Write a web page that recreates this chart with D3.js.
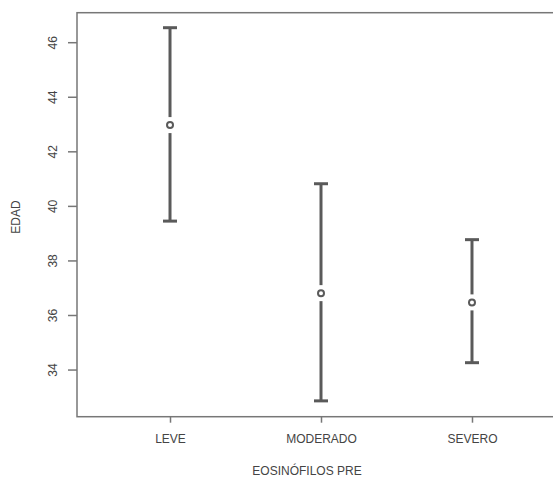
<!DOCTYPE html>
<html>
<head>
<meta charset="utf-8">
<script src="https://cdn.jsdelivr.net/npm/d3@7"></script>
<style>
  html, body { margin: 0; background: #fff; overflow: hidden; }
  svg { display: block; }
  text { font-family: "Liberation Sans", Arial, sans-serif; fill: #444; }
</style>
</head>
<body>
<div id="chart"></div>
<script>
// means with 95% CI
const categories = ["LEVE", "MODERADO", "SEVERO"];
const means = [42.98, 36.82, 36.48];
const upper = [46.55, 40.83, 38.78];
const lower = [39.46, 32.87, 34.27];
const yTicks = [34, 36, 38, 40, 42, 44, 46];

const width = 553, height = 478;
const svg = d3.select("#chart").append("svg").attr("width", width).attr("height", height);

//Scales
let x = d3.scaleLinear().domain([0.384, 3.616]).range([77, 565]);
let y = d3.scaleLinear().domain([32.29, 47.1]).range([416.7, 12.7]);
let grey = "#5a5a5a";

//Box (left, top, bottom visible; right edge falls outside the window)
svg.append("rect")
  .attr("x", x(0.384)).attr("y", y(47.1))
  .attr("width", x(3.616) - x(0.384)).attr("height", y(32.29) - y(47.1))
  .attr("fill", "none").attr("stroke", "#777").attr("stroke-width", 1.5);

//Axes
let yAxis = d3.axisLeft(y).tickValues(yTicks).tickSize(9).tickPadding(6);
let yg = svg.append("g").attr("transform", `translate(${x(0.384)},0)`).call(yAxis);
yg.select(".domain").remove();
yg.selectAll(".tick").attr("transform", null);
yg.selectAll(".tick line")
  .attr("y1", d => y(d)).attr("y2", d => y(d)).attr("x2", -9)
  .attr("stroke", "#777").attr("stroke-width", 1.5);
yg.selectAll("text")
  .attr("font-size", 12).attr("fill", "#444")
  .attr("x", -24).attr("y", d => y(d)).attr("dy", "0.35em")
  .attr("text-anchor", "middle")
  .attr("transform", d => `rotate(-90, -24, ${y(d)})`);

let xAxis = d3.axisBottom(x).tickValues([1, 2, 3]).tickFormat((d, i) => categories[i]).tickSize(6).tickPadding(12);
let xg = svg.append("g").attr("transform", `translate(0,${y(32.29)})`).call(xAxis);
xg.select(".domain").remove();
xg.selectAll("line").attr("stroke", "#777").attr("stroke-width", 1.5);
xg.selectAll("text").attr("font-size", 12).attr("fill", "#444");

//Axis titles
svg.append("text").attr("x", 307).attr("y", 475).attr("text-anchor", "middle")
  .attr("font-size", 12).text("EOSINÓFILOS PRE");
svg.append("text").attr("transform", "translate(20,217) rotate(-90)").attr("text-anchor", "middle")
  .attr("font-size", 12).text("EDAD");

//Error bars
let data = categories.map((c, i) => ({c: c, i: i + 1, m: means[i], hi: upper[i], lo: lower[i]}));
let capW = 7, gap = 8;
let bars = svg.selectAll("g.bar").data(data).enter().append("g").attr("class", "bar");
bars.append("line")
  .attr("x1", d => x(d.i)).attr("x2", d => x(d.i))
  .attr("y1", d => y(d.hi)).attr("y2", d => y(d.m) - gap)
  .attr("stroke", grey).attr("stroke-width", 3);
bars.append("line")
  .attr("x1", d => x(d.i)).attr("x2", d => x(d.i))
  .attr("y1", d => y(d.m) + gap).attr("y2", d => y(d.lo))
  .attr("stroke", grey).attr("stroke-width", 3);
bars.append("line")
  .attr("x1", d => x(d.i) - capW).attr("x2", d => x(d.i) + capW)
  .attr("y1", d => y(d.hi)).attr("y2", d => y(d.hi))
  .attr("stroke", grey).attr("stroke-width", 3);
bars.append("line")
  .attr("x1", d => x(d.i) - capW).attr("x2", d => x(d.i) + capW)
  .attr("y1", d => y(d.lo)).attr("y2", d => y(d.lo))
  .attr("stroke", grey).attr("stroke-width", 3);
bars.append("circle")
  .attr("cx", d => x(d.i)).attr("cy", d => y(d.m)).attr("r", 3)
  .attr("fill", "none").attr("stroke", grey).attr("stroke-width", 2);
</script>
</body>
</html>
